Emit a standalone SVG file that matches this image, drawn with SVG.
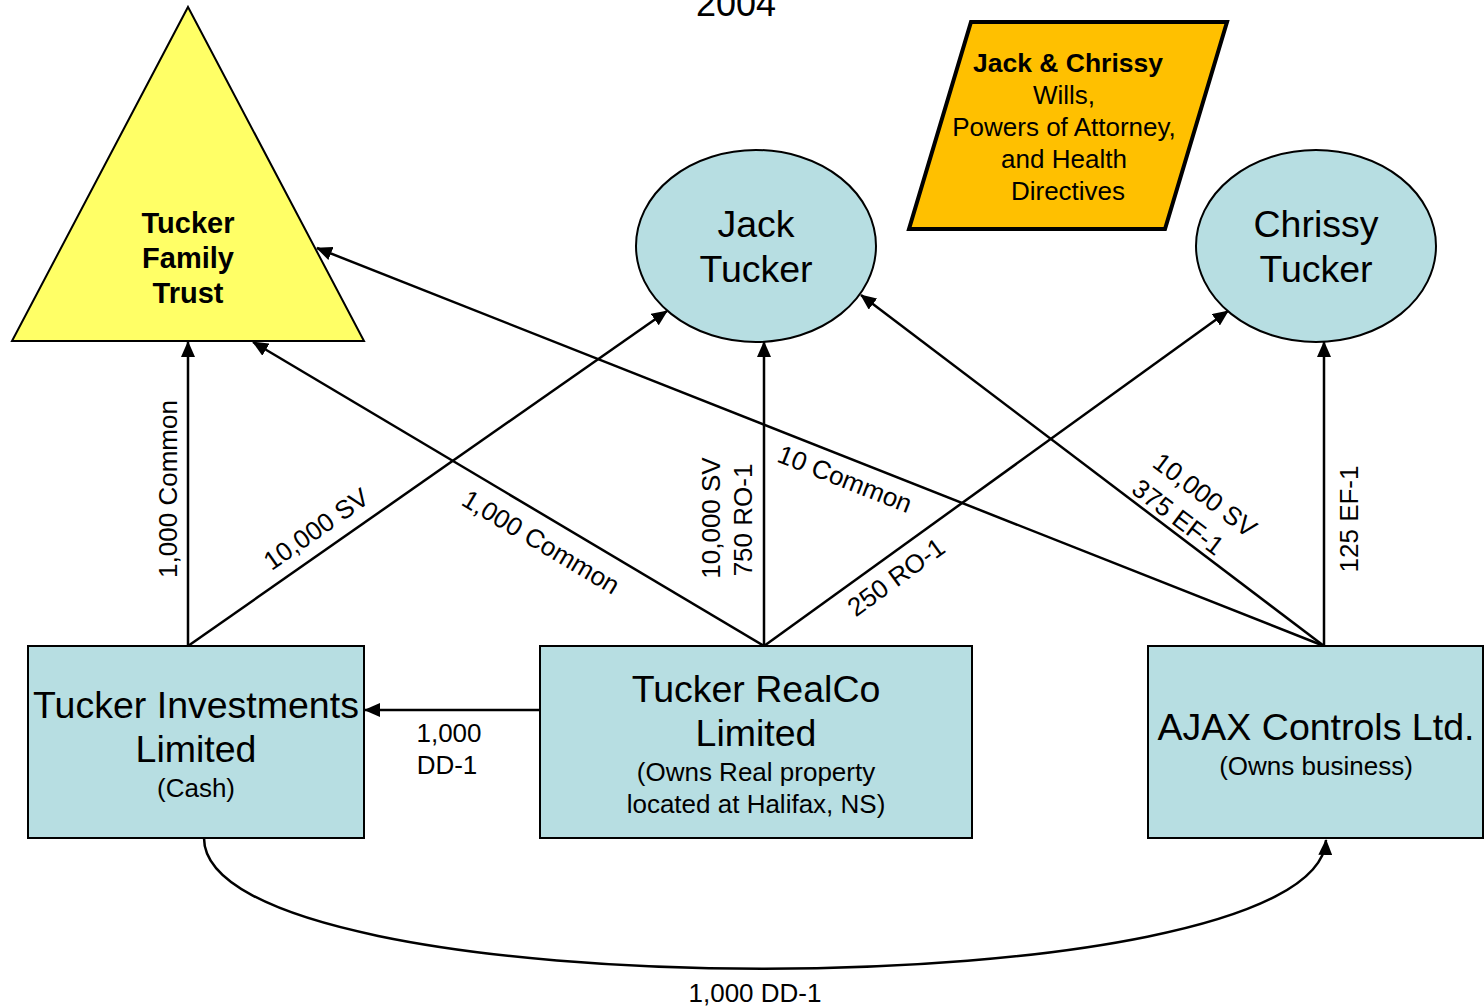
<svg xmlns="http://www.w3.org/2000/svg" width="1484" height="1008" viewBox="0 0 1484 1008">
<style>
text{font-family:"Liberation Sans",Arial,sans-serif;fill:#000}
.lbl{font-size:26px}
.big{font-size:37.5px}
.mid{font-size:26px}
.node{fill:#B7DEE2;stroke:#000;stroke-width:2}
.con{fill:none;stroke:#000;stroke-width:2.5}
</style>
<defs>
<marker id="ah" markerUnits="userSpaceOnUse" markerWidth="16" markerHeight="14" refX="15" refY="7" orient="auto">
<path d="M0,0 L16,7 L0,14 Z" fill="#000"/>
</marker>
</defs>
<rect width="1484" height="1008" fill="#fff"/>
<text x="736" y="16" font-size="36" text-anchor="middle">2004</text>

<g id="connectors">
<line class="con" x1="188" y1="646" x2="188" y2="342" marker-end="url(#ah)"/>
<line class="con" x1="188" y1="646" x2="667" y2="311" marker-end="url(#ah)"/>
<line class="con" x1="764" y1="646" x2="253" y2="342" marker-end="url(#ah)"/>
<line class="con" x1="764" y1="646" x2="764" y2="342" marker-end="url(#ah)"/>
<line class="con" x1="764" y1="646" x2="1228" y2="311" marker-end="url(#ah)"/>
<line class="con" x1="1324" y1="646" x2="317" y2="248" marker-end="url(#ah)"/>
<line class="con" x1="1324" y1="646" x2="861" y2="295" marker-end="url(#ah)"/>
<line class="con" x1="1324" y1="646" x2="1324" y2="342" marker-end="url(#ah)"/>
<line class="con" x1="540" y1="710" x2="365" y2="710" marker-end="url(#ah)"/>
<path class="con" d="M204,838 C204,1012 1318,1012 1326,840" marker-end="url(#ah)"/>

<text class="lbl" transform="translate(177,489) rotate(-90)" text-anchor="middle">1,000 Common</text>
<text class="lbl" transform="translate(316,529) rotate(-35)" text-anchor="middle" y="9">10,000 SV</text>
<text class="lbl" transform="translate(541,542) rotate(30.8)" text-anchor="middle" y="9">1,000 Common</text>
<text class="lbl" transform="translate(720,518) rotate(-90)" text-anchor="middle">10,000 SV</text>
<text class="lbl" transform="translate(752,520) rotate(-90)" text-anchor="middle">750 RO-1</text>
<text class="lbl" transform="translate(845,479) rotate(21.6)" text-anchor="middle" y="9">10 Common</text>
<text class="lbl" transform="translate(896,577) rotate(-36)" text-anchor="middle" y="9">250 RO-1</text>
<text class="lbl" transform="translate(1205,495) rotate(37)" text-anchor="middle" y="9">10,000 SV</text>
<text class="lbl" transform="translate(1178,517) rotate(37)" text-anchor="middle" y="9">375 EF-1</text>
<text class="lbl" transform="translate(1358,519) rotate(-90)" text-anchor="middle">125 EF-1</text>
<text class="lbl" x="449" y="742" text-anchor="middle">1,000</text>
<text class="lbl" x="447" y="774" text-anchor="middle">DD-1</text>
<text class="lbl" x="755" y="1002" text-anchor="middle">1,000 DD-1</text>
</g>

<g id="trust">
<polygon points="188,7 364,341 12,341" fill="#FFFF66" stroke="#000" stroke-width="2"/>
<text x="188" y="233" font-size="29" font-weight="bold" text-anchor="middle">Tucker</text>
<text x="188" y="268" font-size="29" font-weight="bold" text-anchor="middle">Family</text>
<text x="188" y="303" font-size="29" font-weight="bold" text-anchor="middle">Trust</text>
</g>

<g id="wills">
<polygon points="971,22 1227,22 1165,229 909,229" fill="#FFC000" stroke="#000" stroke-width="4"/>
<text x="1068" y="72" font-size="26.5" font-weight="bold" text-anchor="middle">Jack &amp; Chrissy</text>
<text x="1064" y="104" class="mid" text-anchor="middle">Wills,</text>
<text x="1064" y="136" class="mid" text-anchor="middle">Powers of Attorney,</text>
<text x="1064" y="168" class="mid" text-anchor="middle">and Health</text>
<text x="1068" y="200" class="mid" text-anchor="middle">Directives</text>
</g>

<g id="jack">
<ellipse cx="756" cy="246" rx="120" ry="96" class="node" stroke-width="1.5"/>
<text x="756" y="237" class="big" text-anchor="middle">Jack</text>
<text x="756" y="282" class="big" text-anchor="middle">Tucker</text>
</g>

<g id="chrissy">
<ellipse cx="1316" cy="246" rx="120" ry="96" class="node" stroke-width="1.5"/>
<text x="1316" y="237" class="big" text-anchor="middle">Chrissy</text>
<text x="1316" y="282" class="big" text-anchor="middle">Tucker</text>
</g>

<g id="investments">
<rect x="28" y="646" width="336" height="192" class="node"/>
<text x="196" y="718" class="big" text-anchor="middle">Tucker Investments</text>
<text x="196" y="762" class="big" text-anchor="middle">Limited</text>
<text x="196" y="797" class="mid" text-anchor="middle">(Cash)</text>
</g>

<g id="realco">
<rect x="540" y="646" width="432" height="192" class="node"/>
<text x="756" y="702" class="big" text-anchor="middle">Tucker RealCo</text>
<text x="756" y="746" class="big" text-anchor="middle">Limited</text>
<text x="756" y="781" class="mid" text-anchor="middle">(Owns Real property</text>
<text x="756" y="813" class="mid" text-anchor="middle">located at Halifax, NS)</text>
</g>

<g id="ajax">
<rect x="1148" y="646" width="335" height="192" class="node"/>
<text x="1316" y="740" class="big" text-anchor="middle">AJAX Controls Ltd.</text>
<text x="1316" y="775" class="mid" text-anchor="middle">(Owns business)</text>
</g>
</svg>
